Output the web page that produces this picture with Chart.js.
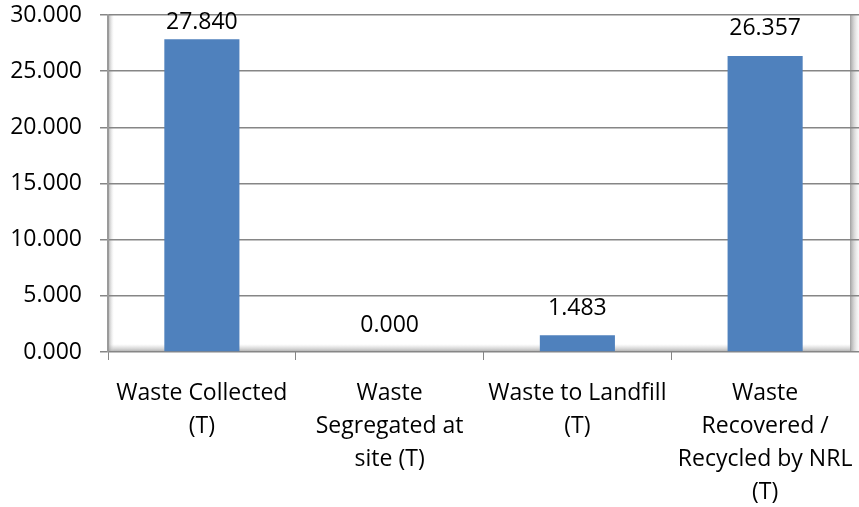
<!DOCTYPE html>
<html>
<head>
<meta charset="utf-8">
<script src="https://cdn.jsdelivr.net/npm/chart.js@4/dist/chart.umd.min.js"></script>
<style>
  html, body { margin: 0; padding: 0; background: #ffffff; }
  #wrap { width: 859px; height: 507px; position: relative; }
</style>
</head>
<body>
<div id="wrap"><canvas id="c"></canvas></div>
<script>
const categories = [
  ["Waste Collected", "(T)"],
  ["Waste", "Segregated at", "site (T)"],
  ["Waste to Landfill", "(T)"],
  ["Waste", "Recovered /", "Recycled by NRL", "(T)"]
];
const values = [27.840, 0.000, 1.483, 26.357];
const yTicks = [0, 5, 10, 15, 20, 25, 30];

const FONT = "'Open Sans', sans-serif";

const wallPlugin = {
  id: 'wall',
  beforeDraw(chart) {
    const { ctx, chartArea: a } = chart;
    ctx.save();
    // floor shading
    let g = ctx.createLinearGradient(0, a.bottom - 8, 0, a.bottom);
    g.addColorStop(0, 'rgba(200,200,200,0)');
    g.addColorStop(1, 'rgba(160,160,160,0.9)');
    ctx.fillStyle = g;
    ctx.fillRect(a.left, a.bottom - 8, a.right - a.left - 8, 8);
    // left wall shading
    g = ctx.createLinearGradient(a.left, 0, a.left + 6, 0);
    g.addColorStop(0, 'rgba(150,150,150,0.8)');
    g.addColorStop(1, 'rgba(220,220,220,0)');
    ctx.fillStyle = g;
    ctx.fillRect(a.left, a.top, 6, a.bottom - a.top);
    // right wall edge shading
    const rx = a.right - 9;
    g = ctx.createLinearGradient(rx, 0, a.right, 0);
    g.addColorStop(0, 'rgba(150,150,150,0.9)');
    g.addColorStop(1, 'rgba(230,230,230,0.2)');
    ctx.fillStyle = g;
    ctx.fillRect(rx, a.top, 9, a.bottom - a.top);
    ctx.restore();
  }
};

const labelPlugin = {
  id: 'valueLabels',
  afterDatasetsDraw(chart) {
    const { ctx, chartArea: a } = chart;
    const meta = chart.getDatasetMeta(0);
    ctx.save();
    ctx.font = "23px " + FONT;
    ctx.fillStyle = '#000000';
    ctx.textAlign = 'center';
    ctx.textBaseline = 'middle';
    meta.data.forEach((bar, i) => {
      let y = bar.y - 27;
      if (y < a.top + 7) y = a.top + 7;
      ctx.fillText(values[i].toFixed(3), bar.x, y);
    });
    ctx.restore();
  }
};

new Chart(document.getElementById('c'), {
  type: 'bar',
  data: {
    labels: categories,
    datasets: [{
      data: values,
      backgroundColor: '#4F81BD',
      borderWidth: 0,
      categoryPercentage: 1.0,
      barPercentage: 0.4
    }]
  },
  plugins: [wallPlugin, labelPlugin],
  options: {
    responsive: true,
    maintainAspectRatio: false,
    animation: false,
    layout: { padding: { left: 10, right: 0, top: 15, bottom: 0 } },
    plugins: {
      legend: { display: false },
      tooltip: { enabled: false }
    },
    scales: {
      x: {
        afterFit(s) { s.height = 155; s.paddingLeft = 0; s.paddingRight = 0; },
        grid: {
          display: true,
          drawOnChartArea: false,
          drawTicks: true,
          tickLength: 8,
          color: '#868686',
          offset: true
        },
        border: { display: false },
        ticks: {
          color: '#000000',
          font: { family: FONT, size: 23, lineHeight: 1.43 },
          padding: 17,
          maxRotation: 0,
          autoSkip: false
        }
      },
      y: {
        min: 0,
        max: 30,
        afterFit(s) { s.width = 98; s.paddingTop = 0; s.paddingBottom = 0; },
        afterBuildTicks(scale) {
          scale.ticks = yTicks.map(v => ({ value: v }));
        },
        grid: {
          color: '#868686',
          lineWidth: 1.5,
          tickLength: 8
        },
        border: { display: true, color: '#9a9a9a', width: 2 },
        ticks: {
          color: '#000000',
          font: { family: FONT, size: 23 },
          padding: 18,
          callback: v => Number(v).toFixed(3)
        }
      }
    }
  }
});
</script>
</body>
</html>
